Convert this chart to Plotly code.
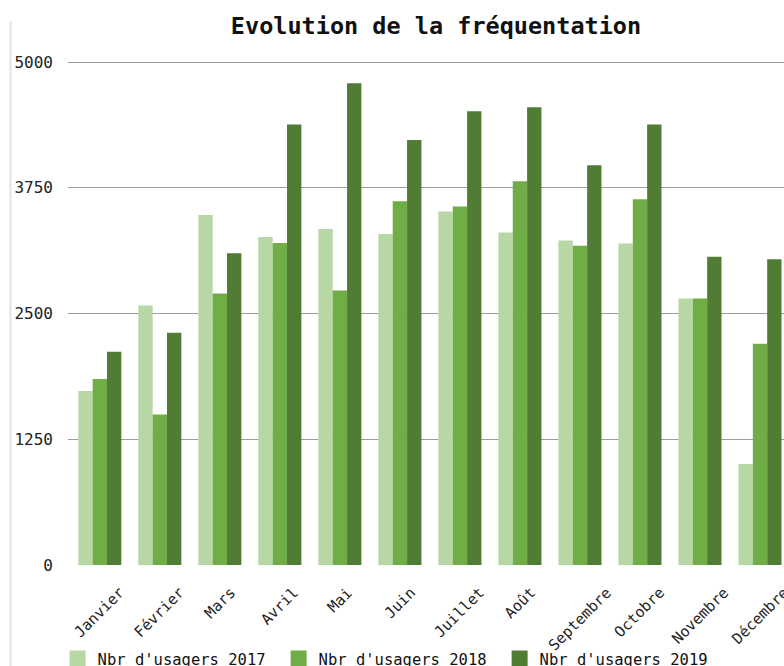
import plotly.graph_objects as go

# Monthly visitor counts per year
months = ["Janvier", "Février", "Mars", "Avril", "Mai", "Juin",
          "Juillet", "Août", "Septembre", "Octobre", "Novembre", "Décembre"]
users_2017 = [1730, 2580, 3480, 3260, 3340, 3290, 3515, 3305, 3225, 3195, 2650, 1005]
users_2018 = [1850, 1495, 2700, 3200, 2730, 3615, 3565, 3815, 3175, 3635, 2650, 2200]
users_2019 = [2120, 2310, 3100, 4380, 4790, 4225, 4510, 4550, 3975, 4380, 3065, 3040]
y_ticks = [0, 1250, 2500, 3750, 5000]

series = [
    ("Nbr d'usagers 2017", users_2017, "#b7d7a5"),
    ("Nbr d'usagers 2018", users_2018, "#70ad47"),
    ("Nbr d'usagers 2019", users_2019, "#507c34"),
]

MONO = "DejaVu Sans Mono"
TEXT = "#222222"

fig = go.Figure()
for name, vals, color in series:
    fig.add_trace(go.Bar(
        x=months, y=vals, name=name, legendgroup=name, showlegend=False,
        marker=dict(color=color, line=dict(width=0)),
    ))
# legend entries with larger square swatches
for name, vals, color in series:
    fig.add_trace(go.Scatter(
        x=[None], y=[None], name=name, legendgroup=name, mode="markers",
        marker=dict(symbol="square", size=16, color=color),
    ))

# rotated month labels, centred under each group
for m in months:
    fig.add_annotation(
        x=m, xref="x", y=0, yref="paper", yanchor="top", xanchor="center",
        yshift=-16, text=m, textangle=-45, showarrow=False,
        font=dict(family=MONO, size=15, color=TEXT),
    )

# thin frame line on the left edge
fig.add_shape(type="line", xref="paper", yref="paper",
              x0=-0.0803, x1=-0.0803, y0=1.06, y1=-0.2,
              line=dict(color="#e3e3e3", width=2))

fig.update_layout(
    width=784, height=666,
    margin=dict(l=68, r=0, t=52, b=101, autoexpand=False),
    paper_bgcolor="white", plot_bgcolor="white",
    barmode="group", bargap=0.283, bargroupgap=0,
    title=dict(
        text="<b>Evolution de la fréquentation</b>",
        x=0.514, xref="paper", xanchor="center",
        y=1 - 26 / 666, yref="container", yanchor="middle",
        font=dict(family=MONO, size=23.5, color="#111111"),
    ),
    xaxis=dict(
        type="category", range=[-0.53, 11.4], showticklabels=False,
        showgrid=False, zeroline=False, showline=False, ticks="",
    ),
    yaxis=dict(
        range=[0, 5100], tickvals=y_ticks, ticktext=[str(v) for v in y_ticks],
        showgrid=True, gridcolor="#9e9e9e", gridwidth=1,
        zeroline=False, showline=False, ticks="", ticklabelstandoff=14,
        tickfont=dict(family=MONO, size=16, color=TEXT),
    ),
    legend=dict(
        orientation="h", x=-0.0145, xanchor="left", y=-0.15, yanchor="top",
        font=dict(family=MONO, size=15.5, color="#111111"),
        entrywidth=176, itemwidth=30, bgcolor="rgba(0,0,0,0)",
    ),
    showlegend=True,
)

fig.write_html("out.html")
